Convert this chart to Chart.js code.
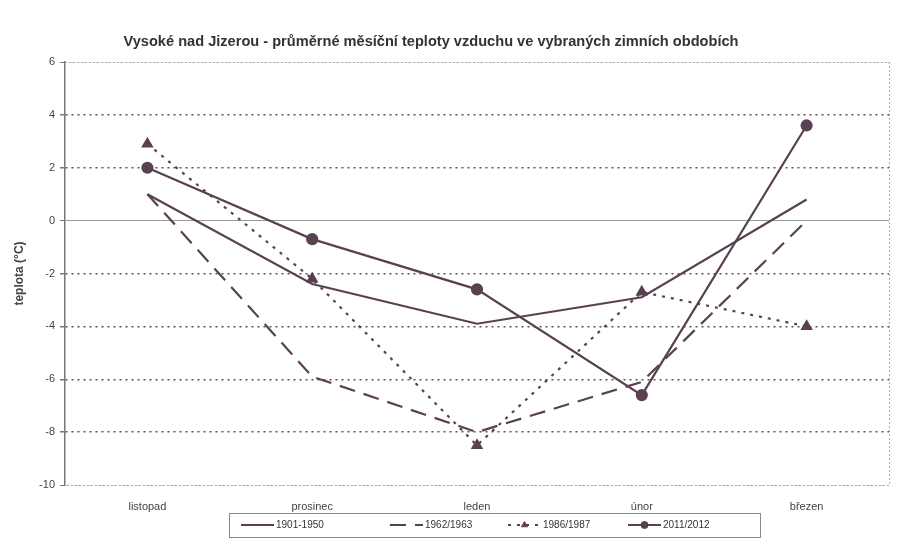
<!DOCTYPE html>
<html><head><meta charset="utf-8">
<script src="https://cdn.jsdelivr.net/npm/chart.js@4"></script>
<style>html,body{margin:0;background:#fff}</style>
</head><body>
<canvas id="c" width="913" height="553"></canvas>
<script>
const months = ['listopad','prosinec','leden','únor','březen'];
const seriesNames = ['1901-1950','1962/1963','1986/1987','2011/2012'];
const s1901_1950 = [1.0, -2.4, -3.9, -2.9, 0.8];
const s1962_1963 = [1.0, -5.9, -8.0, -6.1, 0.0];
const s1986_1987 = [2.9, -2.2, -8.5, -2.7, -4.0];
const s2011_2012 = [2.0, -0.7, -2.6, -6.6, 3.6];
const yTicks = [-10, -8, -6, -4, -2, 0, 2, 4, 6];

const titleText = 'Vysoké nad Jizerou - průměrné měsíční teploty vzduchu ve vybraných zimních obdobích';
const lineColor = '#5a4152';
const FONT = '"Liberation Sans", Arial, sans-serif';

const framePlugin = {
  id: 'frame',
  beforeDatasetsDraw(chart) {
    const {ctx, chartArea: a} = chart;
    ctx.save();
    ctx.strokeStyle = '#aaa';
    ctx.lineWidth = 1;
    ctx.setLineDash([2, 2]);
    ctx.beginPath();
    ctx.moveTo(a.left, a.top + 0.5); ctx.lineTo(a.right + 0.5, a.top + 0.5);
    ctx.lineTo(a.right + 0.5, a.bottom + 0.5); ctx.lineTo(a.left, a.bottom + 0.5);
    ctx.stroke();
    ctx.restore();
  },
  afterDraw(chart) {
    const {ctx} = chart;
    ctx.save();
    ctx.fillStyle = '#333';
    ctx.font = 'bold 14.6px ' + FONT;
    ctx.textAlign = 'center';
    ctx.textBaseline = 'middle';
    ctx.fillText(titleText, 431, 42);
    const bx = 229, by = 513, bw = 531, bh = 24;
    ctx.strokeStyle = '#888';
    ctx.lineWidth = 1;
    ctx.setLineDash([]);
    ctx.strokeRect(bx + 0.5, by + 0.5, bw, bh);
    const itemX = [241, 390, 508, 628];
    const cy = by + bh / 2;
    ctx.font = '10px ' + FONT;
    ctx.textAlign = 'left';
    chart.data.datasets.forEach((ds, i) => {
      const x0 = itemX[i], x1 = x0 + 33;
      ctx.save();
      ctx.strokeStyle = ds.borderColor;
      ctx.lineWidth = ds.borderWidth;
      ctx.setLineDash(ds.borderDash || []);
      ctx.beginPath(); ctx.moveTo(x0, cy); ctx.lineTo(x1, cy); ctx.stroke();
      ctx.restore();
      if (ds.pointRadius > 0) {
        ctx.fillStyle = ds.pointBackgroundColor;
        ctx.strokeStyle = ds.pointBorderColor;
        ctx.lineWidth = 1;
        Chart.helpers.drawPoint(ctx, {pointStyle: ds.pointStyle, radius: 3.5, borderWidth: 1}, (x0 + x1) / 2, cy);
      }
      ctx.fillStyle = '#333';
      ctx.fillText(ds.label, x1 + 2, cy + 0.5);
    });
    ctx.restore();
  }
};

const mk = (label, data, dash, pointStyle, r) => ({
  label, data,
  borderColor: lineColor, borderWidth: 2.2, borderDash: dash,
  pointStyle: pointStyle, pointRadius: r, pointHoverRadius: r,
  pointBackgroundColor: lineColor, pointBorderColor: lineColor,
  tension: 0, fill: false
});

new Chart(document.getElementById('c'), {
  type: 'line',
  data: {
    labels: months,
    datasets: [
      mk(seriesNames[0], s1901_1950, [], 'circle', 0),
      mk(seriesNames[1], s1962_1963, [16, 9], 'circle', 0),
      mk(seriesNames[2], s1986_1987, [3, 6], 'triangle', 5),
      mk(seriesNames[3], s2011_2012, [], 'circle', 5)
    ]
  },
  options: {
    responsive: false,
    animation: false,
    events: [],
    layout: {padding: {top: 62, right: 24, bottom: 36, left: 0}},
    plugins: {legend: {display: false}, title: {display: false}, tooltip: {enabled: false}},
    scales: {
      x: {
        offset: true,
        grid: {display: false},
        border: {display: false},
        ticks: {color: '#444', font: {family: FONT, size: 11}, padding: 7, maxRotation: 0},
        afterFit(s) { s.height = 32; }
      },
      y: {
        min: -10, max: 6,
        afterBuildTicks(s) { s.ticks = yTicks.map(v => ({value: v})); },
        ticks: {color: '#444', font: {family: FONT, size: 11}, padding: 5},
        grid: {
          color: (c) => !c.tick ? '#555' : (c.tick.value === 0 ? '#999' : ((c.tick.value === 6 || c.tick.value === -10) ? '#bbb' : '#555')),
          lineWidth: (c) => (c.tick && (c.tick.value === 6 || c.tick.value === -10 || c.tick.value === 0)) ? 1 : 1.5,
          tickLength: 5,
          tickColor: '#777'
        },
        border: {
          display: true, color: '#777', width: 1.5,
          dash: (c) => (c.tick && c.tick.value !== 0) ? [2, 4] : []
        },
        title: {display: true, text: 'teplota (°C)', color: '#444', font: {family: FONT, size: 12, weight: 'bold'}, padding: {top: 12, bottom: 0}},
        afterFit(s) { s.width = 65; }
      }
    }
  },
  plugins: [framePlugin]
});
</script>
</body></html>
